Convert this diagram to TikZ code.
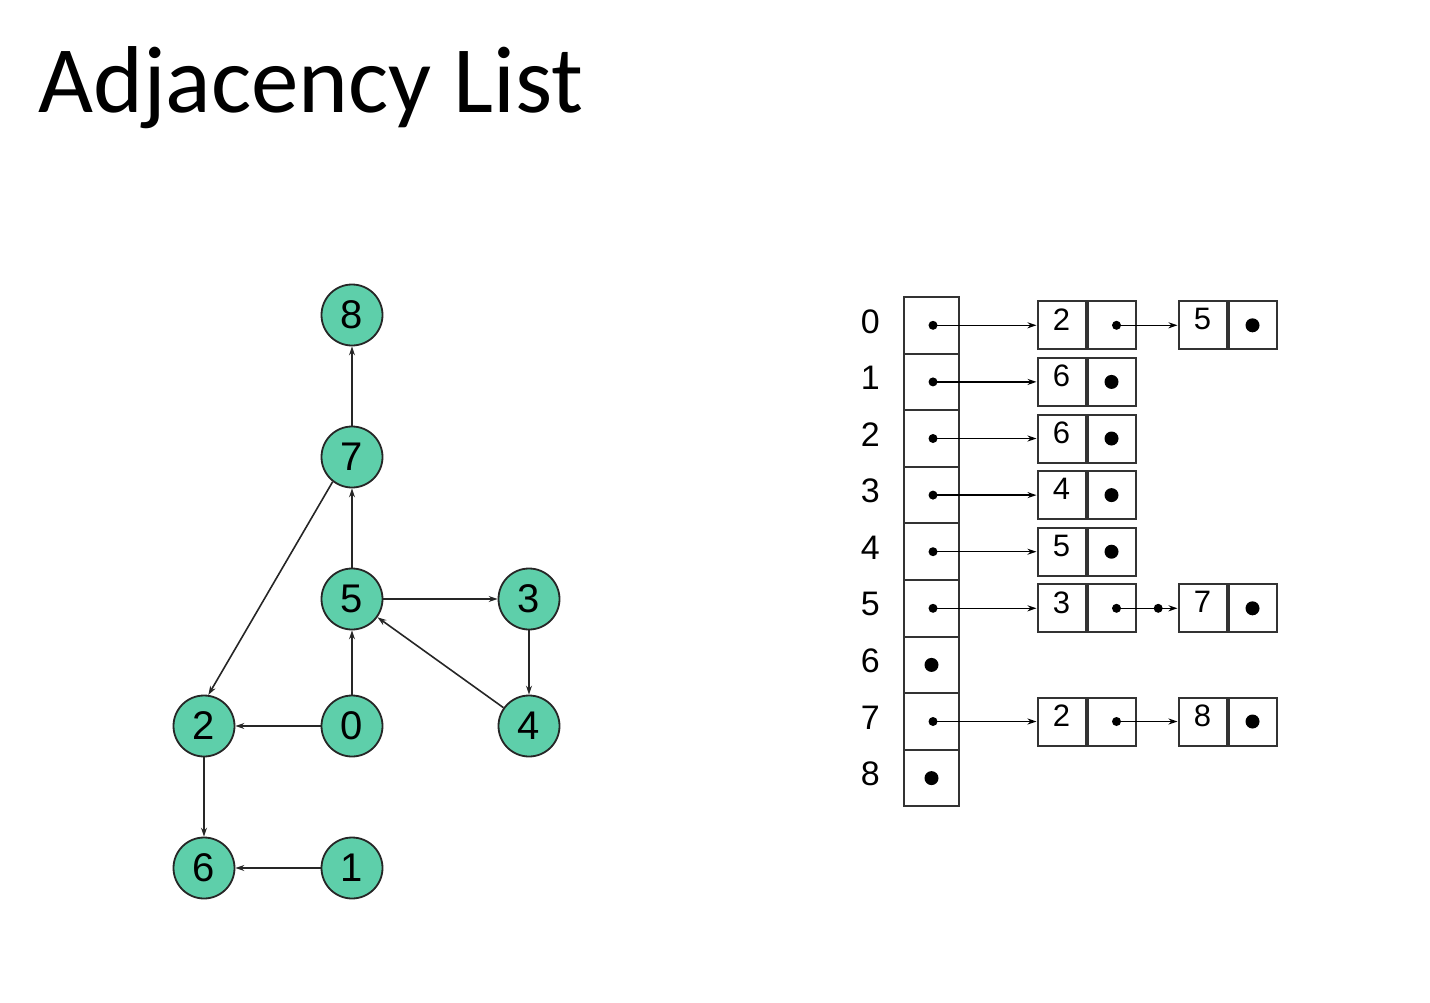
\documentclass[tikz,border=0pt]{standalone}
\usepackage{fontspec}
\setmainfont{Liberation Sans}
\newfontfamily\titlefont{Carlito}
\usepackage{xcolor}
\usepackage{tikz}
\usetikzlibrary{arrows.meta, positioning}
\definecolor{nodegreen}{RGB}{94,207,170}

\begin{document}
\begin{tikzpicture}[x=1pt, y=-1pt, >={Stealth[length=9pt, width=6pt]},
  vertex/.style={circle, draw=black!85, line width=1.8pt, fill=nodegreen,
    minimum size=61pt, inner sep=0pt, font=\fontsize{40}{42}\selectfont},
  conn/.style={->, line width=1.6pt, black!85},
  slot/.style={draw=black!80, line width=2pt, minimum width=55pt,
    minimum height=56.6pt, inner sep=0pt},
  cell/.style={draw=black!80, line width=2pt, minimum width=48pt,
    minimum height=48pt, inner sep=0pt, text depth=12pt,
    font=\fontsize{31}{33}\selectfont},
  ptr/.style={circle, fill, inner sep=0pt, minimum size=9pt},
  nil/.style={circle, fill, inner sep=0pt, minimum size=14pt},
  idx/.style={inner sep=0pt, font=\fontsize{34}{36}\selectfont}]
  \useasboundingbox (0,0) rectangle (1430,1002);
  % 标题
  \node[anchor=base west, inner sep=0pt, font=\titlefont\fontsize{95}{115}\selectfont]
    (title) at (38,112) {Adjacency List};
  % 有向图
  \node[vertex] (v8) at (352,315) {8};
  \node[vertex] (v7) at (352,457) {7};
  \node[vertex] (v5) at (352,599) {5};
  \node[vertex] (v3) at (529,599) {3};
  \node[vertex] (v2) at (204,726) {2};
  \node[vertex] (v0) at (352,726) {0};
  \node[vertex] (v4) at (529,726) {4};
  \node[vertex] (v6) at (204,868) {6};
  \node[vertex] (v1) at (352,868) {1};
  \draw[conn] (v7) -- (v8);
  \draw[conn] (v5) -- (v7);
  \draw[conn] (v7.232) -- (v2.82);
  \draw[conn] (v5) -- (v3);
  \draw[conn] (v3) -- (v4);
  \draw[conn] (v4) -- (v5);
  \draw[conn] (v0) -- (v5);
  \draw[conn] (v0) -- (v2);
  \draw[conn] (v2) -- (v6);
  \draw[conn] (v1) -- (v6);
  % 顶点数组
  \foreach \i in {0,...,8} {
    \node[slot] (a\i) at (931.5, 325.3+56.6*\i) {};
    \node[idx, left=23pt of a\i, yshift=4pt] (n\i) {\i};
  }
  \foreach \i in {0,1,2,3,4,5,7}
    \node[ptr, xshift=1.5pt] (d\i) at (a\i) {};
  \node[nil] (d6) at (a6) {};
  \node[nil] (d8) at (a8) {};
  % 链表：第一个结点
  \foreach \i/\v in {0/2, 1/6, 2/6, 3/4, 4/5, 5/3, 7/2} {
    \node[cell] (c\i) at (1061.5, 325.3+56.6*\i) {\v};
    \node[cell, right=0pt of c\i] (p\i) {};
    \draw[->, line width=1.5pt] (d\i.center) -- (c\i.west);
  }
  \foreach \i in {1,2,3,4}
    \node[nil] (q\i) at (p\i) {};
  % 链表：第二个结点
  \foreach \i/\v in {0/5, 5/7, 7/8} {
    \node[ptr, xshift=5pt] (q\i) at (p\i) {};
    \node[cell, right=41pt of p\i] (e\i) {\v};
    \node[cell, right=0pt of e\i] (f\i) {};
    \node[nil] (z\i) at (f\i) {};
    \draw[->, line width=1.5pt] (q\i.center) -- (e\i.west);
  }
  \node[ptr, right=17pt of p5] (x5) {};
\end{tikzpicture}
\end{document}
